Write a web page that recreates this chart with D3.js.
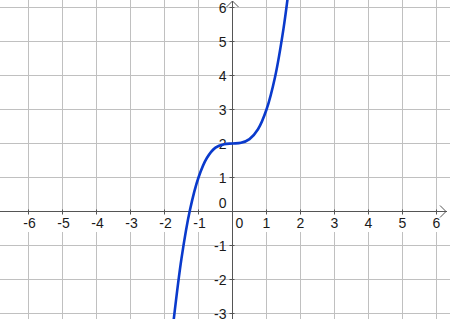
<!DOCTYPE html>
<html>
<head>
<meta charset="utf-8">
<script src="https://cdn.jsdelivr.net/npm/d3@7"></script>
<style>
  html, body { margin: 0; padding: 0; background: #fff; }
  svg { display: block; }
</style>
</head>
<body>
<svg id="plot" width="450" height="319"></svg>
<script>
// tick values on each axis
const xTicks = [-6, -5, -4, -3, -2, -1, 0, 1, 2, 3, 4, 5, 6];
const yTicks = [-3, -2, -1, 0, 1, 2, 3, 4, 5, 6];

// points
const curveX = [-1.8, -1.75, -1.5, -1.25, -1, -0.75, -0.5, -0.25, 0, 0.25, 0.5, 0.75, 1, 1.25, 1.5, 1.7];
const curveY = [-3.83, -3.36, -1.38, 0.05, 1, 1.58, 1.88, 1.98, 2, 2.02, 2.13, 2.42, 3, 3.95, 5.38, 6.91];

function drawPlot() {
  const width = 450, height = 319;
  const unit = 34;

  const x = d3.scaleLinear()
    .domain([0, 1])
    .range([232.5, 232.5 + unit]);
  const y = d3.scaleLinear()
    .domain([0, 1])
    .range([211.5, 211.5 - unit]);

  const svg = d3.select('#plot');

  svg.append('defs').append('clipPath').attr('id', 'clip')
    .append('rect').attr('width', width).attr('height', height);

  // grid
  const grid = svg.append('g').attr('stroke', '#c0c0c0').attr('stroke-width', 1);
  grid.selectAll('line.v')
    .data(xTicks.filter(d => d !== 0))
    .enter().append('line')
    .attr('x1', d => x(d)).attr('x2', d => x(d))
    .attr('y1', 0).attr('y2', height);
  grid.selectAll('line.h')
    .data(yTicks.filter(d => d !== 0))
    .enter().append('line')
    .attr('x1', 0).attr('x2', width)
    .attr('y1', d => y(d)).attr('y2', d => y(d));

  // white behind the x tick labels so grid lines break
  const font = '"Liberation Sans", Arial, sans-serif';
  const fmt = d => String(d);

  const xl = svg.append('g');
  xl.selectAll('rect')
    .data(xTicks.filter(d => d !== 0))
    .enter().append('rect')
    .attr('x', d => x(d) - 9).attr('y', 214)
    .attr('width', 18).attr('height', 18)
    .attr('fill', '#fff');

  // axes
  const axis = svg.append('g').attr('stroke', '#555').attr('stroke-width', 1).attr('fill', 'none');
  axis.append('line')
    .attr('x1', 0).attr('x2', width - 3)
    .attr('y1', y(0)).attr('y2', y(0));
  axis.append('line')
    .attr('x1', x(0)).attr('x2', x(0))
    .attr('y1', height).attr('y2', 1);
  axis.append('path')
    .attr('d', `M${width - 10},${y(0) - 6}L${width - 4},${y(0)}L${width - 10},${y(0) + 6}`);
  axis.append('path')
    .attr('d', `M${x(0) - 6},7L${x(0)},1L${x(0) + 6},7`);

  // small tick marks
  axis.selectAll('line.tx')
    .data(xTicks.filter(d => d !== 0))
    .enter().append('line')
    .attr('x1', d => x(d)).attr('x2', d => x(d))
    .attr('y1', y(0) - 2).attr('y2', y(0) + 3);
  axis.selectAll('line.ty')
    .data(yTicks.filter(d => d !== 0))
    .enter().append('line')
    .attr('x1', x(0) - 3).attr('x2', x(0) + 2)
    .attr('y1', d => y(d)).attr('y2', d => y(d));

  // tick labels
  svg.append('g')
    .attr('font-family', font).attr('font-size', 14).attr('fill', '#1a1a1a')
    .selectAll('text')
    .data(xTicks)
    .enter().append('text')
    .attr('x', d => d === 0 ? x(0) + 7 : x(d) + (d < 0 ? 1 : 0))
    .attr('y', y(0) + 16)
    .attr('text-anchor', 'middle')
    .text(fmt);

  svg.append('g')
    .attr('font-family', font).attr('font-size', 14).attr('fill', '#1a1a1a')
    .selectAll('text')
    .data(yTicks)
    .enter().append('text')
    .attr('x', x(0) - 6)
    .attr('y', d => d === 0 ? y(0) - 4 : y(d) + 5)
    .attr('text-anchor', 'end')
    .text(fmt);

  // curve
  const pts = curveX.map((v, i) => [v, curveY[i]]);
  const line = d3.line()
    .x(d => x(d[0]))
    .y(d => y(d[1]))
    .curve(d3.curveCatmullRom.alpha(0.5));

  svg.append('path')
    .datum(pts)
    .attr('clip-path', 'url(#clip)')
    .attr('d', line)
    .attr('fill', 'none')
    .attr('stroke', '#0a3acc')
    .attr('stroke-width', 2.6)
    .attr('stroke-linecap', 'round');
}

window.onload = function () {
  drawPlot();
};
</script>
</body>
</html>
